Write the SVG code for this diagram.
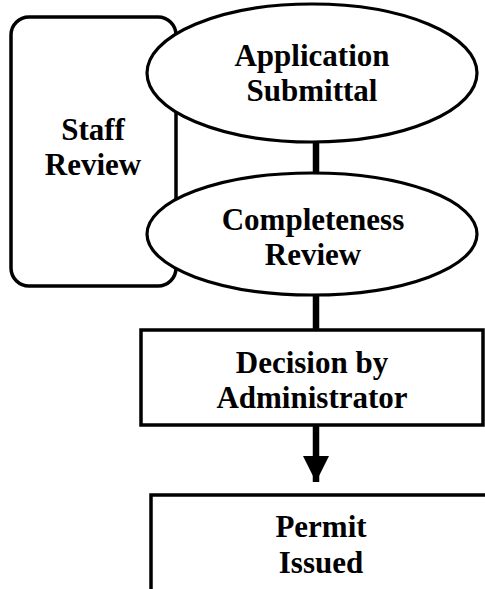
<svg xmlns="http://www.w3.org/2000/svg" width="485" height="589" viewBox="0 0 485 589">
<style>
.n{fill:#fff;stroke:#000;stroke-width:3.5}
.e{fill:#fff;stroke:#000;stroke-width:3.2}
.t{font-family:"Liberation Serif","Times New Roman",serif;font-weight:bold;font-size:31px;text-anchor:middle;fill:#000}
.c{stroke:#000;stroke-width:6.5;fill:none}
</style>
<defs>
<marker id="ah" markerUnits="userSpaceOnUse" markerWidth="26" markerHeight="26" viewBox="0 0 26 26" refX="26" refY="13" orient="auto">
<path d="M0,0 L26,13 L0,26 Z" fill="#000"/>
</marker>
</defs>
<rect width="485" height="589" fill="#fff"/>
<g id="staff-review">
<rect class="n" x="11" y="17" width="165" height="269" rx="18"/>
<text class="t" x="93" y="140">Staff</text>
<text class="t" x="93" y="175">Review</text>
</g>
<g id="connectors">
<line class="c" x1="316" y1="140" x2="316" y2="176"/>
<line class="c" x1="316" y1="294" x2="316" y2="331"/>
<line class="c" x1="316" y1="425" x2="316" y2="482" marker-end="url(#ah)"/>
</g>
<g id="application-submittal">
<ellipse class="e" cx="312" cy="73" rx="165" ry="69"/>
<text class="t" x="312" y="66">Application</text>
<text class="t" x="312" y="101">Submittal</text>
</g>
<g id="completeness-review">
<ellipse class="e" cx="312" cy="234" rx="165" ry="61"/>
<text class="t" x="313" y="230">Completeness</text>
<text class="t" x="313" y="265">Review</text>
</g>
<g id="decision">
<rect class="n" x="141" y="330" width="342" height="95"/>
<text class="t" x="312" y="373">Decision by</text>
<text class="t" x="312" y="408">Administrator</text>
</g>
<g id="permit-issued">
<rect class="n" x="151" y="495" width="360" height="96"/>
<text class="t" x="321" y="537">Permit</text>
<text class="t" x="321" y="573">Issued</text>
</g>
</svg>
